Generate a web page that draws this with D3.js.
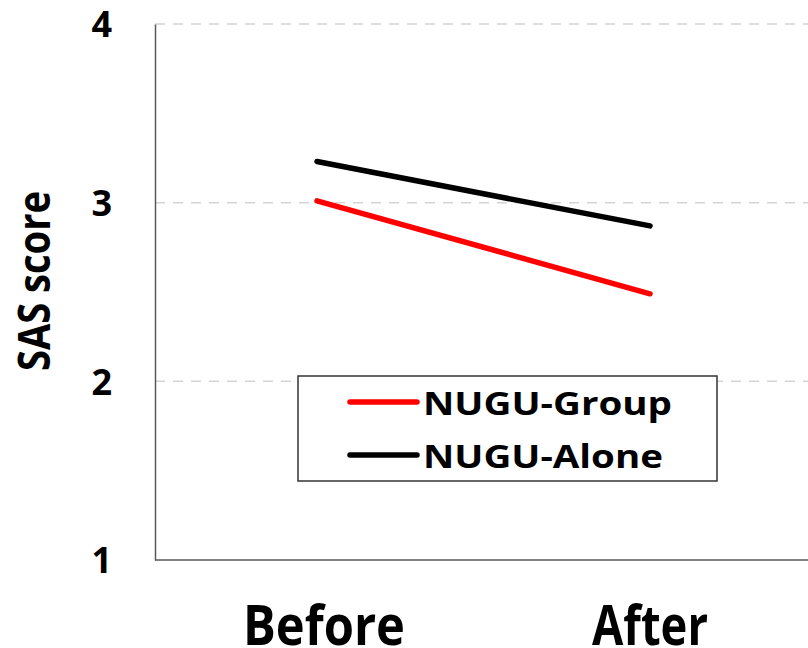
<!DOCTYPE html>
<html>
<head>
<meta charset="utf-8">
<script src="https://cdn.jsdelivr.net/npm/d3@7"></script>
<style>
  body { margin: 0; background: #fff; }
  svg text { font-family: "Open Sans", Lato, sans-serif; font-weight: bold; fill: #000; }
</style>
</head>
<body>
<div id="chart"></div>
<script>
const categories = ["Before", "After"];
const seriesNames = ["NUGU-Group", "NUGU-Alone"];
const seriesColors = ["#ff0000", "#000000"];
const groupValues = [3.01, 2.49];
const aloneValues = [3.23, 2.87];
const yTicks = [1, 2, 3, 4];

const width = 808, height = 648;
const margin = { top: 24, right: 0, bottom: 88, left: 155 };

const svg = d3.select("#chart").append("svg")
    .attr("width", width)
    .attr("height", height);

const x = d3.scalePoint().domain(categories).range([317, 650]);
const y = d3.scaleLinear().domain([1, 4]).range([height - margin.bottom, margin.top]);

// grid lines (dashed)
svg.append("g")
    .selectAll("line")
    .data(yTicks.filter(d => d > 1))
    .enter().append("line")
    .attr("x1", margin.left)
    .attr("x2", width)
    .attr("y1", d => y(d))
    .attr("y2", d => y(d))
    .attr("stroke", "#d4d4d4")
    .attr("stroke-width", 1.5)
    .attr("stroke-dasharray", "10,8");

// y axis
const yAxis = d3.axisLeft(y).tickValues(yTicks).tickSize(0).tickPadding(43).tickFormat(d3.format("d"));
const gy = svg.append("g")
    .attr("transform", `translate(${margin.left},0)`)
    .call(yAxis);
gy.select(".domain").attr("stroke", "#595959").attr("stroke-width", 1.5);
gy.selectAll("text").style("font-size", "36px").attr("dy", "0.36em");

// bottom axis line
svg.append("line")
    .attr("x1", margin.left)
    .attr("x2", width)
    .attr("y1", y(1))
    .attr("y2", y(1))
    .attr("stroke", "#595959")
    .attr("stroke-width", 1.5);

// category labels
const catWidths = { Before: 162, After: 116 };
const catShift = { Before: 7, After: 0 };
svg.append("g")
    .selectAll("text")
    .data(categories)
    .enter().append("text")
    .attr("x", d => x(d) + catShift[d])
    .attr("y", 645)
    .attr("text-anchor", "middle")
    .attr("textLength", d => catWidths[d])
    .attr("lengthAdjust", "spacingAndGlyphs")
    .style("font-size", "55px")
    .text(d => d);

svg.append("text")
    .attr("transform", `translate(50,${(y(1) + y(4)) / 2 - 11}) rotate(-90)`)
    .attr("text-anchor", "middle")
    .attr("textLength", 180)
    .attr("lengthAdjust", "spacingAndGlyphs")
    .style("font-size", "45px")
    .text("SAS score");

// series lines
const line = d3.line()
    .x((d, i) => x(categories[i]))
    .y(d => y(d));

[groupValues, aloneValues].forEach((vals, i) => {
    svg.append("path")
        .datum(vals)
        .attr("d", line)
        .attr("fill", "none")
        .attr("stroke", seriesColors[i])
        .attr("stroke-width", 5.5)
        .attr("stroke-linecap", "round");
});

// legend
const legend = svg.append("g").attr("transform", "translate(298,376)");
legend.append("rect")
    .attr("width", 419)
    .attr("height", 105)
    .attr("fill", "#fff")
    .attr("stroke", "#333")
    .attr("stroke-width", 1.5);

const legendWidths = [249, 240];
seriesNames.forEach((name, i) => {
    const ly = 26 + i * 53;
    legend.append("line")
        .attr("x1", 52).attr("x2", 119)
        .attr("y1", ly).attr("y2", ly)
        .attr("stroke", seriesColors[i])
        .attr("stroke-width", 5.5)
        .attr("stroke-linecap", "round");
    legend.append("text")
        .attr("x", 125)
        .attr("y", ly + 13)
        .attr("textLength", legendWidths[i])
        .attr("lengthAdjust", "spacingAndGlyphs")
        .style("font-size", "32px")
        .text(name);
});
</script>
</body>
</html>
